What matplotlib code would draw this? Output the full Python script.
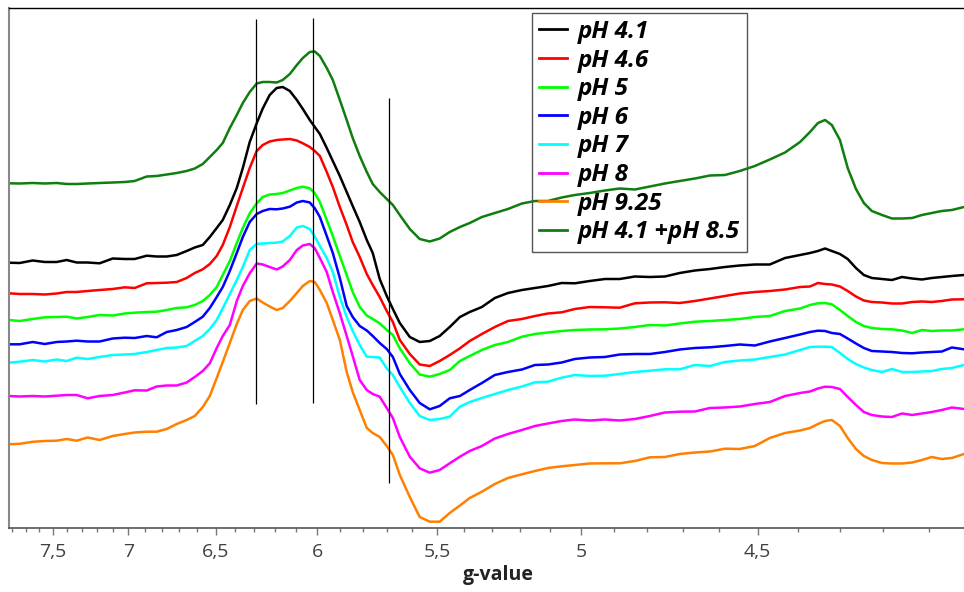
"""
EPR spectra at different pH, plotted against g-value
(x axis is linear in field, i.e. in 1/g)
"""

import numpy as np
import matplotlib
matplotlib.use("Agg")
import matplotlib.pyplot as plt

# sample positions (g-value) shared by all spectra
g_values = [7.828, 7.744, 7.647, 7.559, 7.474, 7.404, 7.336, 7.262, 7.183, 7.099,
            7.023, 6.962, 6.889, 6.830, 6.771, 6.714, 6.658, 6.613, 6.569, 6.531,
            6.494, 6.462, 6.425, 6.389, 6.358, 6.323, 6.288, 6.258, 6.224, 6.190,
            6.161, 6.127, 6.094, 6.066, 6.034, 6.011, 5.988, 5.957, 5.930, 5.899,
            5.869, 5.843, 5.813, 5.783, 5.758, 5.729, 5.700, 5.675, 5.647, 5.607,
            5.568, 5.529, 5.491, 5.453, 5.415, 5.379, 5.335, 5.289, 5.243, 5.195,
            5.151, 5.108, 5.063, 5.021, 4.974, 4.927, 4.882, 4.837, 4.793, 4.750,
            4.708, 4.666, 4.625, 4.585, 4.546, 4.507, 4.469, 4.431, 4.394, 4.370,
            4.351, 4.334, 4.318, 4.299, 4.281, 4.262, 4.244, 4.226, 4.203, 4.181,
            4.159, 4.137, 4.116, 4.095, 4.074, 4.053, 4.028]

# intensities (arbitrary units, stacked)
ph_4_1 = [265.3, 265, 267.5, 266, 266, 268, 265.5, 265.5, 264.7, 269.5,
          269, 269, 272.3, 271.5, 271.5, 273, 277, 280.5, 283, 291,
          300, 308, 323, 340, 360, 386, 404.7, 419.5, 433, 440,
          441, 437, 428, 419, 408, 401, 394, 380, 367, 352,
          336, 322, 306, 288, 275, 249, 232, 219, 205, 191,
          186, 187, 192, 201, 211, 216, 221, 230, 235, 238,
          240, 242, 245, 244.7, 247, 249, 249, 251.5, 251, 251.5,
          255, 257.5, 259, 261, 262.5, 263.5, 263.5, 270, 273, 275,
          277, 279.5, 277, 274, 269, 260, 253, 250, 249, 248,
          251, 249.5, 248.5, 250, 251, 252, 253]

ph_4_6 = [234.7, 234, 234, 233.5, 234.5, 236, 236, 237, 238, 239,
          240.7, 240, 244.7, 245, 245.3, 246, 250, 255, 258.7, 264,
          272, 283, 301, 322, 340, 360, 377, 383, 386.5, 388,
          388.5, 389, 387.5, 384.7, 381, 377, 372, 356, 341, 321,
          303, 286, 271, 254, 243, 231, 217, 206, 188, 174,
          163.5, 162, 167, 173, 179.7, 187, 194, 201, 207, 209,
          212, 214.5, 215.7, 219, 221, 220.7, 220.3, 224.7, 225.5, 225.7,
          225, 227, 229.5, 232, 234.5, 236, 237, 238.5, 241, 241.5,
          245, 244, 243.5, 241.5, 237, 231.5, 227.5, 226, 225.5, 224.5,
          224.5, 226, 226.5, 226, 227, 228.5, 228.7]

ph_5 = [208, 207, 209, 210.7, 211, 211.3, 209.5, 211, 213, 212.5,
        214.5, 215.3, 216, 216.3, 218, 220, 220.7, 223, 227, 233,
        241, 253, 267, 285, 300, 314.7, 324.7, 331, 333.5, 334,
        335, 337.5, 340, 341.3, 339.7, 334.7, 326, 308, 292, 272,
        253, 236, 221, 212.5, 209, 204.7, 198, 193, 179.7, 164.7,
        153.5, 151.3, 154, 158, 167, 172, 178, 183, 186, 191.3,
        194, 195.5, 197, 198, 198.5, 198.7, 199.5, 201, 203, 202.5,
        204.5, 206.3, 207, 208, 209, 211, 212, 217, 219.5, 223,
        224.7, 225, 223.7, 218, 212, 206, 202, 200, 199, 198.7,
        197.5, 195, 198, 197, 197.5, 197.5, 198.7]

ph_6 = [183.7, 183.7, 186, 184, 186, 186.5, 187.3, 186.5, 186.5, 189.5,
        190.3, 190, 192, 190.7, 196, 198, 201, 206, 211.3, 220,
        231, 241, 257, 275, 291, 306, 314, 317, 319, 318.7,
        319.5, 321.3, 325.5, 327, 325.5, 319.7, 311, 292, 275, 250,
        222, 211, 202, 197.5, 192, 185, 179, 171, 154, 138,
        125, 118.7, 122, 129.7, 132, 138, 145, 153, 156, 158.5,
        163, 163.5, 165.5, 169, 170.5, 171, 173.5, 174, 174, 176,
        178.5, 180, 180.7, 182, 183.5, 182.5, 186.5, 190, 193.5, 196,
        197.3, 197, 195, 194, 189.5, 184.5, 180, 177, 176.5, 176,
        175, 174.7, 175.5, 176, 176.5, 180.5, 178.7]

ph_7 = [165.3, 166.3, 168, 166.5, 168.5, 167, 170.3, 169, 171, 173,
        173.5, 174, 176, 178, 180, 180.5, 182, 187, 192, 199,
        208, 219.7, 234, 248, 261, 278, 284, 284.5, 285, 285.3,
        286.5, 292, 300.5, 302, 299, 291.3, 282, 270, 256, 231,
        211, 197, 183, 171.3, 171, 170.5, 159.5, 153, 141, 125,
        112, 108, 109, 111.3, 121.3, 126, 130, 134, 138, 141.5,
        145.7, 146.3, 150.3, 153, 152, 152.3, 154, 156, 157.3, 158.7,
        158.7, 163, 162, 166, 167.5, 168.5, 171, 173.5, 178, 181,
        181.3, 181.3, 181, 175, 169, 164, 160.5, 158, 156, 159,
        156, 156, 156.5, 157, 159, 160, 163]

ph_8 = [132, 131.5, 132, 131.5, 132.3, 133, 133, 129.7, 132, 133,
        135.5, 137.7, 137.5, 141.5, 142.5, 142.5, 145.5, 151, 157, 164.7,
        180, 192, 203, 227, 242, 254.7, 264.5, 263.5, 261, 258.5,
        261.5, 268, 278, 282.5, 284, 279.7, 270, 256, 236, 214.7,
        192, 172, 148, 138, 134, 131.3, 120, 110, 91, 71.3,
        59.7, 55.3, 58, 64.7, 71.3, 77, 82, 89.5, 94, 98,
        102, 104.5, 107, 108.5, 107.5, 108.5, 107.5, 109, 112, 115.5,
        116.3, 116.5, 120, 120.5, 121.5, 124, 126, 132, 135, 136.5,
        139.5, 141.3, 141, 139, 131, 123, 116, 113, 111.5, 111,
        114.5, 113, 114.5, 116, 118, 120.5, 119]

ph_9_25 = [83.7, 84.2, 86.2, 87, 87.3, 89, 87.3, 90.5, 88, 92,
           94, 95.5, 96.3, 96.3, 99, 104, 108, 112, 121, 132,
           150, 166, 185, 204, 218, 227, 229.5, 225.5, 221.5, 218,
           220, 227, 235, 242, 247, 246, 238, 225, 208, 188,
           156, 136, 118, 100, 95, 91, 82, 73, 53, 31,
           11, 6.3, 6.3, 15, 22.5, 30, 36.3, 44, 50, 53.7,
           57, 60, 61.7, 63, 64.5, 64.7, 64.7, 67, 70.7, 71,
           74, 75.5, 76.5, 79.3, 79, 82, 90, 95, 97.5, 100,
           104, 107, 108, 102, 90, 79, 72, 68, 65, 64.5,
           64.5, 65.5, 68, 71, 69, 70, 74]

ph_mix = [344.7, 344.5, 345, 344.5, 345, 344, 344, 344.5, 345, 345.5,
          346, 347, 351.5, 352, 353.5, 355, 357, 359.5, 364, 371,
          378, 385, 400, 413, 425, 436, 444.5, 446, 446, 445.5,
          448, 454, 463, 470, 476, 476.5, 472, 460, 448, 428,
          408, 390, 372, 356, 344, 336, 329, 323, 313, 299,
          289, 286.5, 289.5, 296, 301, 305, 311, 315, 319, 324.5,
          327, 327, 330.5, 333, 335, 337.5, 339.5, 338.5, 341.5, 344.5,
          347, 349.5, 352.5, 353, 357, 362, 368.5, 375.5, 386, 396,
          405, 408, 403, 388, 360, 339, 325, 317, 313, 309.5,
          309.5, 310, 313, 315, 317, 318, 321]

labels = ["pH 4.1", "pH 4.6", "pH 5", "pH 6", "pH 7", "pH 8", "pH 9.25", "pH 4.1 +pH 8.5"]
colors = ["#000000", "#ff0000", "#00ff00", "#0000ff", "#00ffff", "#ff00ff", "#ff8000", "#0f7d0f"]

# the three marker lines: g position, lower and upper end
marker_g = [6.29, 6.02, 5.69]
marker_lo = [124, 125, 45]
marker_hi = [509, 510, 430]

major_ticks = [7.5, 7, 6.5, 6, 5.5, 5, 4.5]
minor_ticks = [7.8, 7.7, 7.6, 7.4, 7.3, 7.2, 7.1, 6.9, 6.8, 6.7, 6.6, 6.4, 6.3, 6.2, 6.1,
               5.9, 5.8, 5.7, 5.6, 5.4, 5.3, 5.2, 5.1, 4.9, 4.8, 4.7, 4.6, 4.4, 4.3, 4.2, 4.1]
g_left, g_right = 7.828, 4.028


def field(g):
    # the axis is linear in 1/g
    return 1.0 / np.asarray(g, dtype=float)


def main():
    fig = plt.figure(figsize=(9.64, 5.92), dpi=100)
    ax = fig.add_axes([8.7 / 964, 64 / 592, 1 - 8.7 / 964, 520 / 592])

    series = [ph_4_1, ph_4_6, ph_5, ph_6, ph_7, ph_8, ph_9_25, ph_mix]
    x = field(g_values)
    for vals, lab, col in zip(series, labels, colors):
        ax.plot(x, vals, color=col, lw=1.8, label=lab)

    ax.vlines(field(marker_g), marker_lo, marker_hi, color="black", lw=0.9)

    ax.set_xlim(field(g_left), field(g_right))
    ax.set_ylim(0, 520)

    ax.set_xticks(field(major_ticks))
    ax.set_xticklabels([f"{v:g}".replace(".", ",") for v in major_ticks],
                       family=["Open Sans", "DejaVu Sans"])
    ax.set_xticks(field(minor_ticks), minor=True)
    ax.tick_params(axis="x", which="major", length=5, width=1, color="#777777",
                   labelsize=14, labelcolor="#404040", pad=6)
    ax.tick_params(axis="x", which="minor", length=3, width=1, color="#777777")
    ax.set_yticks([])

    ax.spines["right"].set_visible(False)
    ax.spines["top"].set_color("black")
    ax.spines["top"].set_linewidth(1)
    ax.spines["left"].set_color("#888888")
    ax.spines["left"].set_linewidth(1.5)
    ax.spines["bottom"].set_color("#555555")
    ax.spines["bottom"].set_linewidth(1.2)

    ax.set_xlabel("g-value", fontsize=14, fontweight="bold", color="#222222",
                  family=["Open Sans", "DejaVu Sans"])
    ax.xaxis.set_label_coords(0.513, -0.072)

    leg = ax.legend(loc="upper left", bbox_to_anchor=(0.5475, 0.991), borderaxespad=0,
                    fancybox=False, facecolor="none", framealpha=1, edgecolor="#555555",
                    handlelength=1.15, handletextpad=0.45, labelspacing=0.19,
                    borderpad=0.3,
                    prop={"family": ["Open Sans", "DejaVu Sans"], "size": 17.5,
                          "weight": "bold", "style": "italic"})
    leg.get_frame().set_linewidth(1)
    for line in leg.get_lines():
        line.set_linewidth(2)

    fig.savefig("out.png", dpi=100)


if __name__ == "__main__":
    main()
